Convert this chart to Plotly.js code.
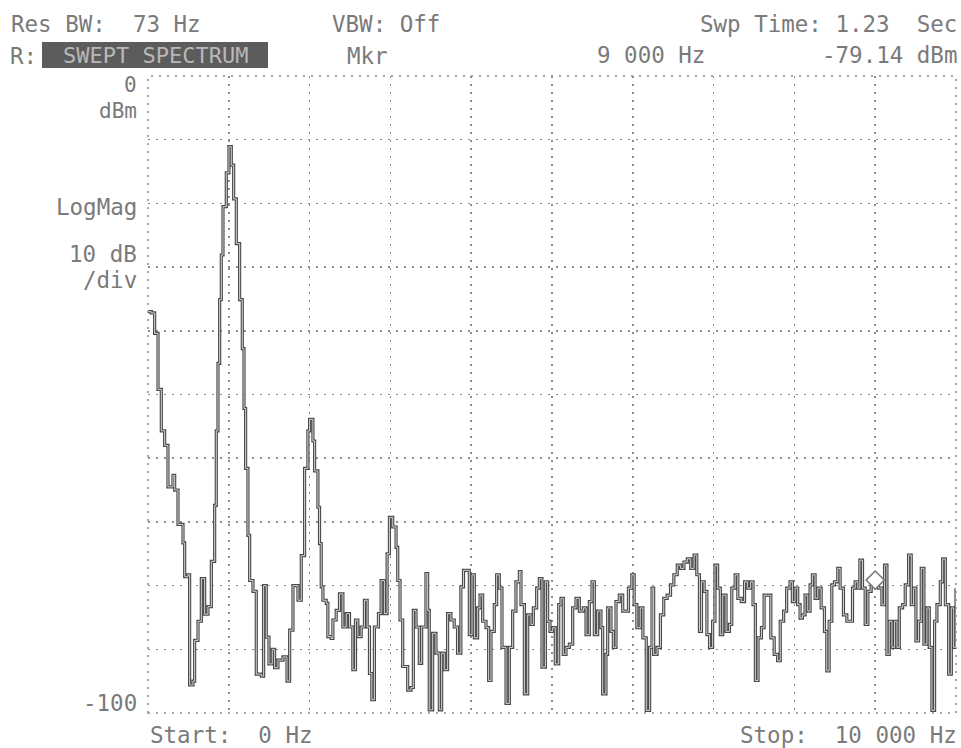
<!DOCTYPE html>
<html>
<head>
<meta charset="utf-8">
<script src="https://cdn.plot.ly/plotly-3.0.1.min.js"></script>
<style>
html,body{margin:0;padding:0;background:#fff;}
#chart{width:961px;height:748px;}
</style>
</head>
<body>
<div id="chart"></div>
<script>
// Frequency (Hz) of each trace point
const freqHz = [
  0, 41, 82, 124, 165, 206, 247, 309, 330, 371, 433, 454, 495, 515, 557, 577, 619, 660, 701, 742,
  784, 825, 845, 866, 887, 907, 928, 969, 1002, 1031, 1060, 1093, 1134, 1167, 1188, 1208, 1237, 1258, 1299, 1340,
  1402, 1431, 1464, 1497, 1538, 1567, 1608, 1670, 1720, 1753, 1794, 1856, 1897, 1938, 1979, 2000,
  2041, 2062, 2103, 2123, 2144, 2165, 2206, 2226, 2267, 2288, 2329, 2370, 2412, 2453, 2494, 2535, 2568, 2597,
  2638, 2679, 2712, 2741, 2770, 2802, 2852, 2885, 2926, 2959, 2988, 3029, 3070, 3091, 3119, 3152, 3193, 3214,
  3255, 3284, 3317, 3358, 3387, 3440, 3461, 3481, 3523, 3564, 3605, 3634, 3667, 3708, 3749, 3790, 3831, 3872, 3905,
  3977, 4010, 4039, 4080, 4109, 4142, 4183, 4216, 4245, 4286, 4315, 4348, 4381, 4431, 4472, 4513, 4554, 4596,
  4616, 4658, 4699, 4740, 4769, 4810, 4843, 4876, 4918, 4946, 4975, 5008, 5041, 5083, 5111, 5140, 5173, 5215,
  5256, 5297, 5338, 5388, 5421, 5462, 5495, 5524, 5565, 5606, 5627, 5668, 5689, 5730, 5759, 5792, 5833, 5875,
  5904, 5946, 5988, 6017, 6050, 6092, 6125, 6167, 6208, 6238, 6258, 6300, 6342, 6383, 6425, 6467, 6508, 6550,
  6592, 6633, 6675, 6717, 6758, 6792, 6825, 6850, 6883, 6917, 6950, 6988, 7017, 7050, 7083, 7113, 7154, 7196,
  7225, 7267, 7300, 7342, 7383, 7417, 7458, 7488, 7517, 7550, 7592, 7625, 7667, 7708, 7750, 7792, 7825, 7867,
  7904, 7946, 7975, 8008, 8041, 8070, 8099, 8132, 8165, 8194, 8223, 8256, 8289, 8331, 8372, 8401, 8430, 8463,
  8496, 8537, 8566, 8607, 8649, 8690, 8719, 8752, 8785, 8810, 8843, 8876, 8909, 8950, 9000, 9041, 9083, 9116,
  9145, 9174, 9207, 9240, 9269, 9298, 9339, 9372, 9413, 9446, 9475, 9504, 9537, 9570, 9603, 9640, 9669, 9702,
  9735, 9764, 9806, 9835, 9868, 9909, 9942, 9971, 10000
];
// Magnitude (dBm) of each trace point
const levelDbm = [
  -37.0, -37.2, -40.4, -49.2, -55.7, -58.0, -64.5, -62.7, -65.0, -70.4, -73.3, -78.6, -78.3, -95.6, -95.0, -88.6, -85.6, -78.9, -84.5, -83.3,
  -76.2, -67.4, -55.7, -45.1, -35.1, -28.1, -20.5, -15.2, -11.1, -14.0, -19.3, -26.3, -35.1, -42.8, -52.2, -61.6, -72.1, -79.2, -80.9, -93.9,
  -94.2, -80.0, -88.1, -92.3, -90.0, -92.9, -91.7, -91.2, -95.0, -87.0, -80.0, -82.3, -75.3, -61.6, -55.7, -53.9,
  -57.3, -62.0, -67.7, -73.4, -80.2, -82.3, -82.8, -88.0, -88.3, -85.4, -83.9, -81.3, -86.5, -84.4, -86.5, -93.2, -85.4, -88.0,
  -86.5, -82.3, -86.5, -93.8, -97.9, -86.5, -84.4, -79.2, -84.4, -75.0, -69.3, -70.8, -74.0, -79.2, -85.4, -92.7, -92.7, -96.4,
  -96.0, -83.9, -86.5, -92.2, -86.5, -78.1, -83.9, -99.5, -87.5, -90.6, -99.5, -90.6, -93.2, -84.4, -85.4, -86.5, -90.6, -80.2, -77.6,
  -87.7, -78.3, -88.2, -83.5, -81.5, -85.6, -86.6, -94.9, -87.2, -83.0, -78.3, -80.4, -89.7, -98.5, -89.7, -84.0, -79.4, -77.8,
  -83.0, -97.0, -84.6, -86.1, -83.5, -80.4, -78.9, -92.8, -79.4, -85.6, -87.2, -86.6, -92.3, -83.0, -82.0, -90.8, -89.7, -89.2,
  -83.5, -82.0, -84.0, -83.5, -87.7, -82.5, -79.4, -87.7, -84.0, -86.6, -97.0, -90.8, -83.5, -87.2, -89.7, -82.5, -81.5, -84.0,
  -84.0, -80.4, -78.3, -83.0, -86.6, -83.5, -88.2, -99.6, -89.7, -80.4, -90.8, -89.7, -84.6, -82.0, -81.5, -79.9, -78.3, -76.8,
  -77.3, -76.3, -75.8, -77.3, -75.2, -78.3, -87.2, -79.4, -80.9, -87.7, -89.7, -85.6, -76.8, -80.4, -87.7, -81.5, -87.2, -86.1,
  -80.4, -78.3, -82.0, -82.5, -79.4, -80.4, -79.4, -83.0, -94.9, -88.2, -86.6, -81.5, -81.5, -88.2, -90.8, -91.8, -85.6, -84.0,
  -80.4, -79.4, -82.5, -80.4, -83.0, -85.1, -84.6, -81.5, -84.0, -79.9, -78.3, -82.0, -80.4, -83.5, -87.2, -93.4, -85.6, -79.9,
  -79.4, -77.3, -80.4, -84.6, -85.6, -85.6, -80.4, -79.4, -80.4, -76.0, -80.4, -86.1, -80.9, -79.4, -79.14, -80.4, -83.0, -76.8,
  -90.8, -85.6, -89.7, -85.6, -89.7, -83.5, -83.0, -79.9, -75.2, -83.0, -80.4, -88.7, -85.6, -77.3, -89.2, -83.5, -89.7, -99.6,
  -85.6, -83.0, -79.4, -75.8, -83.0, -93.9, -83.5, -89.7, -80.4
];
// Marker
const markerHz = [9000];
const markerDbm = [-79.14];

// Header / label texts
const headerTexts = {
  resBw: 'Res BW:  73 Hz',
  vbw: 'VBW: Off',
  swp: 'Swp Time: 1.23  Sec',
  chan: 'R:',
  meas: 'SWEPT SPECTRUM',
  mkr: 'Mkr',
  mkrFreq: '9 000 Hz',
  mkrVal: '-79.14 dBm',
  ref: '0',
  refUnit: 'dBm',
  fmt: 'LogMag',
  scale1: '10 dB',
  scale2: '/div',
  bottom: '-100',
  start: 'Start:  0 Hz',
  stop: 'Stop:  10 000 Hz'
};

const FONT = 'DejaVu Sans Mono, monospace';
const TXT = '#7a7a7a';
const FS = 22.5;

const traces = [
  {
    x: freqHz, y: levelDbm, type: 'scatter', mode: 'lines',
    line: {shape: 'hv', color: '#4a4a4a', width: 3.2},
    hoverinfo: 'skip', showlegend: false
  },
  {
    x: freqHz, y: levelDbm, type: 'scatter', mode: 'lines',
    line: {shape: 'hv', color: '#d4d4d4', width: 1},
    hoverinfo: 'skip', showlegend: false
  },
  {
    x: markerHz, y: markerDbm, type: 'scatter', mode: 'markers',
    marker: {symbol: 'diamond', size: 14, color: '#ffffff', line: {color: '#777', width: 1.5}},
    hoverinfo: 'skip', showlegend: false
  }
];

function ann(text, x, y, xanchor, extra) {
  return Object.assign({
    text: text, x: x, y: y, xref: 'paper', yref: 'paper',
    xanchor: xanchor, yanchor: 'middle', showarrow: false,
    font: {family: FONT, size: FS, color: TXT}
  }, extra || {});
}
// paper coords helpers: plot area x 148..956, y 76..713
const W = 808, H = 637, L = 148, T = 76;
const px = v => (v - L) / W;
const py = v => 1 - (v - T) / H;

const annotations = [
  ann(headerTexts.resBw, px(9), py(24), 'left'),
  ann(headerTexts.vbw, px(330), py(24), 'left'),
  ann(headerTexts.swp, px(959), py(24), 'right'),
  ann(headerTexts.chan, px(8), py(56), 'left'),
  ann(headerTexts.meas, px(155), py(55.5), 'center', {
    font: {family: FONT, size: 22, color: '#b8b8b8'}
  }),
  ann(headerTexts.mkr, px(345), py(56), 'left'),
  ann(headerTexts.mkrFreq, px(595), py(55), 'left'),
  ann(headerTexts.mkrVal, px(959), py(55), 'right'),
  ann(headerTexts.ref, px(139), py(85), 'right', {font: {family: FONT, size: 21, color: TXT}}),
  ann(headerTexts.refUnit, px(139), py(111), 'right', {font: {family: FONT, size: 21, color: TXT}}),
  ann(headerTexts.fmt, px(139), py(207), 'right'),
  ann(headerTexts.scale1, px(139), py(254), 'right'),
  ann(headerTexts.scale2, px(139), py(280), 'right'),
  ann(headerTexts.bottom, px(139), py(703), 'right'),
  ann(headerTexts.start, px(148), py(735), 'left'),
  ann(headerTexts.stop, px(959), py(735), 'right')
];

const GRID = '#8c8c8c';
const layout = {
  width: 961, height: 748,
  margin: {l: 148, r: 5, t: 76, b: 35, pad: 0},
  paper_bgcolor: '#ffffff', plot_bgcolor: '#ffffff',
  showlegend: false,
  xaxis: {
    range: [0, 10000], dtick: 1000, tick0: 0, showticklabels: false, ticks: '',
    showgrid: true, gridcolor: GRID, griddash: '2px,6px', gridwidth: 1.5,
    zeroline: false, showline: false, fixedrange: true
  },
  yaxis: {
    range: [-100, 0], dtick: 10, tick0: 0, showticklabels: false, ticks: '',
    showgrid: true, gridcolor: GRID, griddash: '2px,6px', gridwidth: 1.5,
    zeroline: false, showline: false, fixedrange: true
  },
  shapes: [
    {type: 'rect', xref: 'paper', yref: 'paper', x0: 0, x1: 1, y0: 0, y1: 1,
     line: {color: GRID, width: 1.5, dash: '2px,6px'}, layer: 'below'},
    {type: 'rect', xref: 'paper', yref: 'paper', x0: px(42), x1: px(268), y0: py(68), y1: py(42),
     fillcolor: '#5c5c5c', line: {width: 0}, layer: 'below'}
  ],
  annotations: annotations
};

Plotly.newPlot('chart', traces, layout, {staticPlot: true, displayModeBar: false});
</script>
</body>
</html>
